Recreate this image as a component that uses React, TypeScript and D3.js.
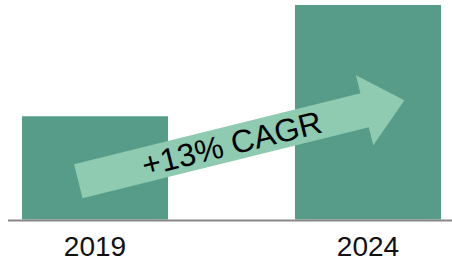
import React from "react";
import * as d3 from "d3";

const categories = ["2019", "2024"];
const values = [103, 214];
const cagrLabel = "+13% CAGR";

const W = 452;
const H = 262;
const BAR = "#569c89";
const ARROW = "#8ecbb1";

export default function App() {
  const x = d3.scaleBand<string>().domain(categories).range([22, 441]).paddingInner(0.465).paddingOuter(0);
  const y = d3.scaleLinear().domain([0, 214]).range([219.5, 5]);

  // arrow geometry (annotation), in local along/perp coords
  const sx = 78.3, sy = 181.3, ang = -13.94;
  const shaftLen = 295, shaftHalf = 17.5, headLen = 41, headHalf = 36;
  const pts: [number, number][] = [
    [0, -shaftHalf],
    [shaftLen, -shaftHalf],
    [shaftLen, -headHalf],
    [shaftLen + headLen, 0],
    [shaftLen, headHalf],
    [shaftLen, shaftHalf],
    [0, shaftHalf],
  ];
  const line = d3.line();

  return (
    <svg width={W} height={H} style={{ position: "absolute", left: 0, top: 0 }}>
      <rect width={W} height={H} fill="#fff" />
      {categories.map((c, i) => (
        <rect key={c} x={x(c)} y={y(values[i])} width={x.bandwidth()} height={y(0) - y(values[i])} fill={BAR} />
      ))}
      <line x1={8} x2={452} y1={220.5} y2={220.5} stroke="#888" strokeWidth={2.2} />
      {categories.map((c) => (
        <text
          key={c}
          x={(x(c) as number) + x.bandwidth() / 2}
          y={255.5}
          textAnchor="middle"
          fontFamily="Liberation Sans, Arial, sans-serif"
          fontSize={28}
          fill="#111"
        >
          {c}
        </text>
      ))}
      <g transform={`translate(${sx},${sy}) rotate(${ang})`}>
        <path d={line(pts) + "Z"} fill={ARROW} />
        <text
          x={158}
          y={0}
          dy="0.36em"
          textAnchor="middle"
          fontFamily="Liberation Sans, Arial, sans-serif"
          fontSize={32}
          fill="#000"
        >
          {cagrLabel}
        </text>
      </g>
    </svg>
  );
}
